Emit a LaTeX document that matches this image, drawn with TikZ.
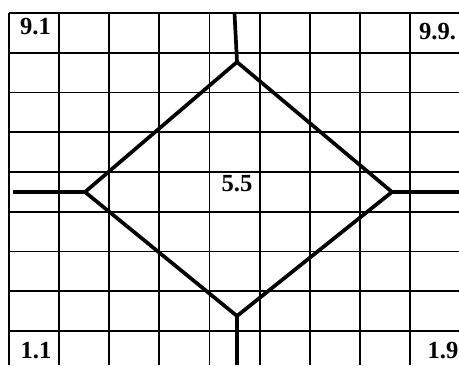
\documentclass[tikz,border=0pt]{standalone}
\usepackage{fontspec}
\usepackage{tikz}
\usepackage{xcolor}
\usetikzlibrary{calc}
\setmainfont{Liberation Serif}
\definecolor{Ink}{HTML}{000000}

\begin{document}
\begin{tikzpicture}[x=0.02cm,y=-0.02cm,
  gridline/.style={draw=Ink,line width=1pt},
  thick line/.style={draw=Ink,line width=2.1pt,line join=miter},
  lbl/.style={font=\fontsize{14}{16}\selectfont\bfseries,inner sep=0pt},
  every node/.style={text=Ink}]
  \useasboundingbox[fill=white] (0,0) rectangle (459,365);
  % grid
  \foreach \i in {0,...,8}
    \draw[gridline] ({9+50.125*\i},13) -- ({9+50.125*\i},365);
  \foreach \j in {0,...,8}
    \draw[gridline] (9,{13+39.75*\j}) -- (459,{13+39.75*\j});
  % diamond corners and free ends
  \coordinate (west) at (85,192);
  \coordinate (north) at (237,62);
  \coordinate (east) at (392,192);
  \coordinate (south) at (237,316);
  \coordinate (west end) at (13,192);
  \coordinate (north end) at (234.5,13);
  \coordinate (east end) at (459,192);
  \coordinate (south end) at (237,365);
  \draw[thick line] (west) -- (north) -- (east) -- (south) -- cycle;
  \draw[thick line,line width=2.4pt] (west end) -- (west);
  \draw[thick line] (north end) -- (north);
  \draw[thick line,line width=2.4pt] (east) -- (east end);
  \draw[thick line] (south) -- (south end);
  % labels
  \node[lbl] (c91) at (35.5,26.5) {9.1};
  \node[lbl] (c99) at (437.5,32) {9.9.};
  \node[lbl] (c55) at (237,184) {5.5};
  \node[lbl] (c11) at (36,350.5) {1.1};
  \node[lbl] (c19) at (443,350.5) {1.9};
\end{tikzpicture}
\end{document}
